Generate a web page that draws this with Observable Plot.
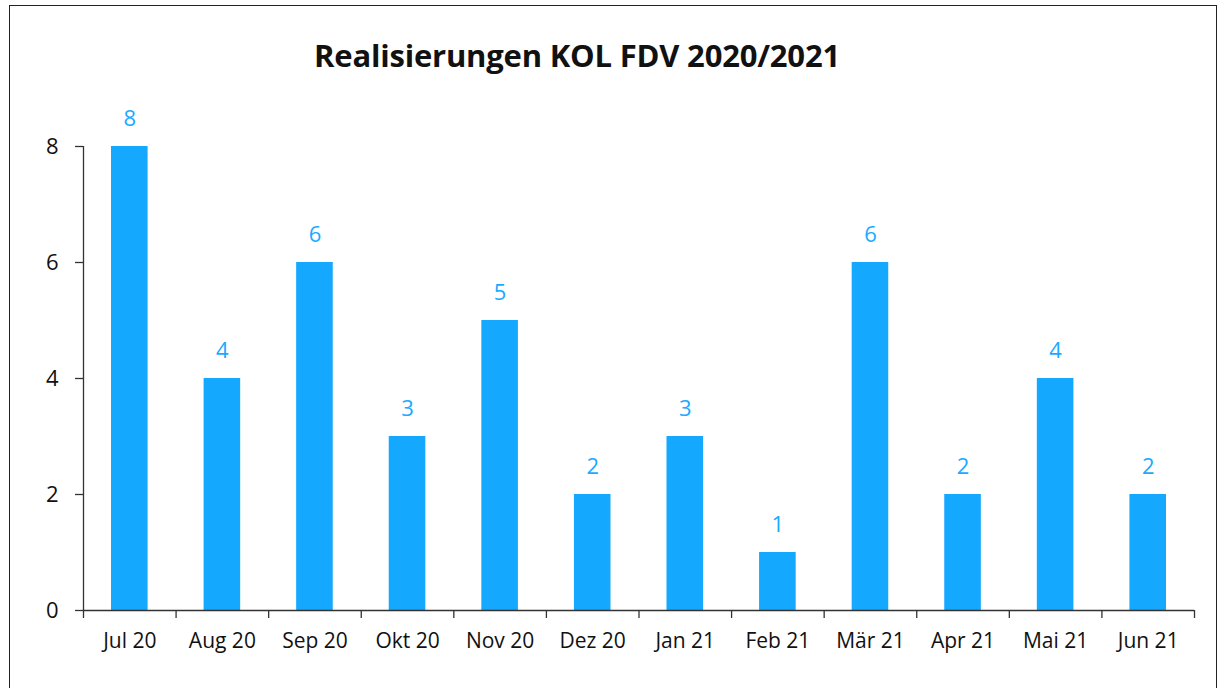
<!DOCTYPE html>
<html>
<head>
<meta charset="utf-8">
<script src="https://cdn.jsdelivr.net/npm/d3@7"></script>
<script src="https://cdn.jsdelivr.net/npm/@observablehq/plot@0.6"></script>
<style>
  html, body { margin: 0; padding: 0; background: #fff; overflow: hidden; }
  body { width: 1221px; height: 688px; position: relative; font-family: "Open Sans", "Noto Sans", sans-serif; }
  #frame { position: absolute; left: 9px; top: 5px; width: 1208px; height: 720px; border: 1.5px solid #222; box-sizing: border-box; z-index: 5; pointer-events: none; }
  #title { position: absolute; left: 0; width: 1154px; top: 34px; text-align: center; font-weight: 700; font-size: 31px; color: #111; letter-spacing: -0.2px; }
  #chart { position: absolute; left: 0; top: 90px; }
</style>
</head>
<body>
<div id="title">Realisierungen KOL FDV 2020/2021</div>
<div id="chart"></div>
<div id="frame"></div>
<script>
const months = ["Jul 20", "Aug 20", "Sep 20", "Okt 20", "Nov 20", "Dez 20", "Jan 21", "Feb 21", "Mär 21", "Apr 21", "Mai 21", "Jun 21"];
const values = [8, 4, 6, 3, 5, 2, 3, 1, 6, 2, 4, 2];
const yTicks = [0, 2, 4, 6, 8];

const data = months.map((m, i) => ({month: m, value: values[i]}));

const W = 1221, H = 580;
const ml = 83, mr = 27, mt = 56, mb = 60;
const step = (W - ml - mr) / months.length;
const barInset = 28;
const axisColor = "#333";
const blue = "#14A8FF";

const chart = Plot.plot({
  width: W,
  height: H,
  marginLeft: ml,
  marginRight: mr,
  marginTop: mt,
  marginBottom: mb,
  style: {fontFamily: "'Open Sans', 'Noto Sans', sans-serif", fontSize: "21px", color: "#111", background: "transparent", overflow: "visible"},
  x: {domain: months, padding: 0, round: false, label: null},
  y: {domain: [0, 8], label: null},
  marks: [
    Plot.barY(data, {x: "month", y: "value", fill: blue, insetLeft: barInset, insetRight: barInset}),
    Plot.text(data, {x: "month", y: "value", text: d => String(d.value), fill: "#1AAAFF", lineAnchor: "bottom", dy: -21, fontSize: 22}),
    Plot.axisY({ticks: yTicks, tickSize: 8, tickPadding: 17, stroke: axisColor, strokeWidth: 1.3, fill: "#111", fontSize: 22, label: null}),
    Plot.axisX({tickSize: 0, tickPadding: 23, fill: "#111", fontSize: 21, label: null}),
    Plot.ruleY([0], {stroke: axisColor, strokeWidth: 1.5}),
    Plot.ruleX([months[0]], {y1: 8, y2: 0, dx: -step / 2, insetBottom: -8, stroke: axisColor, strokeWidth: 1.3}),
    Plot.ruleX(months, {y1: 0, y2: 0, dx: step / 2, insetBottom: -8, stroke: axisColor, strokeWidth: 1.3})
  ]
});
document.getElementById("chart").appendChild(chart);
</script>
</body>
</html>
